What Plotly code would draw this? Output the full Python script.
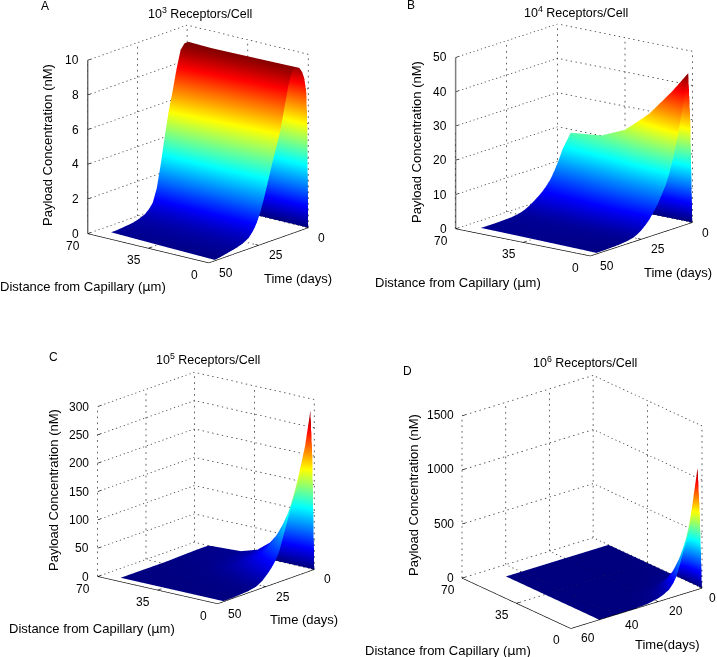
import numpy as np
import plotly.graph_objects as go

W, H = 717, 657

# ---- Panel A: 10^3 receptors/cell
a_time = [0, .5, 1, 2, 3, 4.5, 6, 8, 10, 12, 14, 16, 18, 20, 22, 24, 26, 28, 30, 33, 36, 40, 44, 47]
a_dist = [0, 30, 60]
a_d0 = [0, 6, 7.9, 8.7, 9.1, 9.4, 9.5, 9.4, 8.6, 7.4, 6.2, 5.3, 4.5, 3.6, 2.7, 1.9, 1.3, .9, .62, .42, .3, .2, .1, .05]
a_d30 = [0, 4.5, 6.5, 8, 8.7, 9.2, 9.45, 9.5, 9.2, 8.3, 7.1, 6.1, 5.2, 4.2, 3, 1.8, 1.2, .82, .58, .41, .3, .22, .15, .12]
a_d60 = [0, 3, 5, 7.2, 8.2, 9, 9.4, 9.6, 9.6, 9.3, 8.3, 7.1, 6, 4.6, 3.1, 1.8, 1.05, .75, .55, .4, .3, .25, .2, .2]
a_rows = [a_d0, a_d30, a_d60]

# ---- Panel B: 10^4 receptors/cell
b_time = [0, 1, 2, 3, 4, 5.5, 7, 9, 11, 13, 15, 17, 19, 21, 23, 25, 27, 29, 32, 36, 40, 44, 47]
b_dist = [0, 8, 20, 32, 44, 60]
b_d0 = [0, 30, 44, 41, 37, 32, 27, 21.5, 17, 13.5, 11, 8.6, 6.8, 5, 3.7, 2.6, 1.8, 1.2, .8, .5, .4, .3, .3]
b_d8 = [0, 25, 38, 36, 33, 29, 25, 20.3, 16.3, 13, 10.6, 8.4, 6.6, 4.9, 3.6, 2.6, 1.8, 1.2, .85, .6, .5, .4, .4]
b_d20 = [0, 20, 30, 29.5, 28, 25, 22, 18.5, 15, 12, 9.9, 7.9, 6.3, 4.8, 3.6, 2.6, 1.8, 1.25, .9, .7, .6, .5, .5]
b_d32 = [0, 16, 24, 24, 23.5, 21.5, 19, 16, 13.2, 10.8, 9, 7.2, 5.8, 4.5, 3.4, 2.5, 1.8, 1.3, .95, .8, .7, .6, .6]
b_d44 = [0, 14, 20.5, 21, 20.5, 19.5, 17.5, 14.7, 12, 9.6, 7.9, 6.4, 5.1, 4, 3.1, 2.3, 1.7, 1.3, 1, .85, .75, .7, .7]
b_d60 = [0, 13, 19, 20, 19, 17.5, 16, 13, 10.5, 8.3, 6.8, 5.5, 4.5, 3.6, 2.8, 2.1, 1.6, 1.3, 1, .9, .8, .8, .8]
b_rows = [b_d0, b_d8, b_d20, b_d32, b_d44, b_d60]

# ---- Panel C: 10^5 receptors/cell
c_time = [0, 1, 2, 3, 4.5, 6, 8, 10, 12, 14, 16, 18, 20, 22, 24, 27, 30, 34, 38, 42, 47]
c_dist = [0, 5.5, 13, 21, 31, 41, 60]
c_d0 = [0, 200, 283, 255, 228, 205, 175, 148, 125, 102, 78, 55, 40, 30, 22, 12, 6, 3, 2, 1, 1]
c_d5 = [0, 120, 169, 155, 138, 125, 108, 94, 82, 70, 56, 42, 32, 25, 18, 10, 5.5, 3, 2, 1, 1]
c_d13 = [0, 58, 81, 76, 71, 66, 59, 53, 47, 42, 35, 28, 22, 17, 12, 7, 4, 2.5, 2, 1, 1]
c_d21 = [0, 28, 40, 38, 36, 34, 31, 28, 26, 23, 20, 17, 14, 11, 8, 5, 3, 2, 1.5, 1, 1]
c_d31 = [0, 11, 16, 15, 14.5, 14, 13.5, 12.5, 11, 10, 9, 8, 7, 5.5, 4, 3, 2, 1.5, 1, 1, 1]
c_d41 = [0, 5, 6.5, 6.2, 6, 6, 6, 5.5, 5, 4.5, 4, 3.5, 3, 2.5, 2, 1.7, 1.5, 1.2, 1, 1, 1]
c_d60 = [0, 2, 3, 3, 3, 3, 3, 2.7, 2.5, 2.3, 2, 1.8, 1.5, 1.2, 1, 1, 1, 1, 1, 1, 1]
c_rows = [c_d0, c_d5, c_d13, c_d21, c_d31, c_d41, c_d60]

# ---- Panel D: 10^6 receptors/cell
d_time = [0, 1, 2, 3, 4, 5, 6, 7, 8.5, 10, 11.5, 13, 15, 17.5, 20, 25, 32, 40, 47]
d_dist = [0, 3, 7, 12, 16, 25, 60]
d_d0 = [0, 700, 1130, 920, 770, 660, 570, 490, 395, 290, 190, 130, 80, 50, 30, 8, 1, 1, 1]
d_d3 = [0, 500, 800, 660, 560, 480, 420, 360, 290, 215, 145, 100, 60, 38, 22, 6, 1, 1, 1]
d_d7 = [0, 260, 400, 345, 295, 255, 225, 195, 160, 120, 85, 58, 35, 22, 14, 4, 1, 1, 1]
d_d12 = [0, 60, 90, 80, 70, 62, 55, 48, 40, 32, 23, 16, 12, 8, 5, 2, 1, 1, 1]
d_d16 = [0, 15, 25, 22, 20, 18, 16, 14, 12, 10, 7, 5, 4, 3, 2, 1, 1, 1, 1]
d_d25 = [0, 3, 5, 4.5, 4, 3.5, 3, 3, 3, 2, 2, 1.5, 1, 1, 1, 1, 1, 1, 1]
d_d60 = [0, 1, 1, 1, 1, 1, 1, 1, 1, 1, 1, 1, 1, 1, 1, 1, 1, 1, 1]
d_rows = [d_d0, d_d3, d_d7, d_d12, d_d16, d_d25, d_d60]

dist_ticks = [0, 35, 70]
time_ticks_abc = [0, 25, 50]
time_ticks_d = [0, 20, 40, 60]
z_ticks_a = [0, 2, 4, 6, 8, 10]
z_ticks_b = [0, 10, 20, 30, 40, 50]
z_ticks_c = [0, 50, 100, 150, 200, 250, 300]
z_ticks_d = [0, 500, 1000, 1500]

JET = [[0, "#00007F"], [.125, "#0000FF"], [.375, "#00FFFF"], [.625, "#FFFF00"], [.875, "#FF0000"], [1, "#7F0000"]]
FONT = "Liberation Sans"
SCALE = 139.0
EYE_R = 2.0

panels = [
    dict(sid="scene", letter="A", exp="3", rows=a_rows, time=a_time, dist=a_dist, tt=time_ticks_abc, zt=z_ticks_a,
         eye=(-.609, .737, .292), L=(156, 155, 180), center=(197.5, 144), zcolor="#555555", zwidth=2.5, t0shift=13.5,
         title=(200, 13), let=(45, 6), zt_pos=(47, 145), dl=(83, 287), tl=(298, 278), tl_text="Time (days)", zsolid=True),
    dict(sid="scene2", letter="B", exp="4", rows=b_rows, time=b_time, dist=b_dist, tt=time_ticks_abc, zt=z_ticks_b,
         eye=(-.596, .760, .257), L=(170, 164, 176), center=(573.5, 140), zcolor="#808080", zwidth=3, t0shift=13.5,
         title=(576, 12), let=(411, 5), zt_pos=(416, 142), dl=(458, 282), tl=(678, 272), tl_text="Time (days)", zsolid=True),
    dict(sid="scene3", letter="C", exp="5", rows=c_rows, time=c_time, dist=c_dist, tt=time_ticks_abc, zt=z_ticks_c,
         eye=(-.599, .748, .2835), L=(152.5, 153.6, 176), center=(205.5, 488), zcolor="#333333", zwidth=1.5, t0shift=13.5,
         title=(208, 359), let=(53, 357), zt_pos=(53, 490), dl=(92, 628), tl=(304, 619), tl_text="Time (days)", zsolid=False),
    dict(sid="scene4", letter="D", exp="6", rows=d_rows, time=d_time, dist=d_dist, tt=time_ticks_d, zt=z_ticks_d,
         eye=(-.718, .585, .378), L=(171, 168, 174), center=(582, 501.5), zcolor="#333333", zwidth=1.5, t0shift=10.5,
         title=(585, 362), let=(407, 371), zt_pos=(413, 495), dl=(448, 650), tl=(667, 644), tl_text="Time(days)", zsolid=False),
]

fig = go.Figure()
layout_ann = []
DW, DH = 270, 280
DOT_PITCH = 6.0


def paper(x, y, text, size=13, angle=0):
    return dict(xref="paper", yref="paper", x=x / W, y=1 - y / H, text=text, showarrow=False,
                font=dict(family=FONT, size=size, color="black"), xanchor="center", yanchor="middle", textangle=angle)


for p in panels:
    sid = p["sid"]
    zgrid = np.array(p["rows"], dtype=float).T
    zmax_data = zgrid.max()
    fig.add_trace(go.Surface(x=p["dist"], y=p["time"], z=zgrid, scene=sid, colorscale=JET, cmin=0, cmax=zmax_data,
                             showscale=False, hoverinfo="skip",
                             lighting=dict(ambient=1, diffuse=0, specular=0, roughness=1, fresnel=0)))
    dmax, tmax, zmax = dist_ticks[-1], p["tt"][-1], p["zt"][-1]
    spans = np.array([dmax, tmax, zmax], dtype=float)
    px_per_span = np.array(p["L"], dtype=float)

    # dotted back walls and floor grid, each line broken into short dashes
    gx, gy, gz = [], [], []

    def dotted(a, b):
        a, b = np.array(a, float), np.array(b, float)
        length = np.abs((b - a) / spans * px_per_span).sum()
        n = max(1, int(length / DOT_PITCH))
        for i in range(n + 1):
            s = i / n
            e = min(1, s + 1.8 / length)
            q0, q1 = a + (b - a) * s, a + (b - a) * e
            gx.extend([q0[0], q1[0], None]); gy.extend([q0[1], q1[1], None]); gz.extend([q0[2], q1[2], None])

    for z in p["zt"]:
        dotted((0, 0, z), (dmax, 0, z))
        dotted((dmax, 0, z), (dmax, tmax, z))
    for d in dist_ticks:
        dotted((d, 0, 0), (d, 0, zmax))
        dotted((d, 0, 0), (d, tmax, 0))
    for t in p["tt"]:
        dotted((dmax, t, 0), (dmax, t, zmax))
        dotted((0, t, 0), (dmax, t, 0))
    fig.add_trace(go.Scatter3d(x=gx, y=gy, z=gz, scene=sid, mode="lines", hoverinfo="skip", showlegend=False,
                               line=dict(color="#333333", width=1.5)))

    # solid front axes with inward ticks
    ax, ay, az = [], [], []

    def seg2(a, b):
        ax.extend([a[0], b[0], None]); ay.extend([a[1], b[1], None]); az.extend([a[2], b[2], None])

    seg2((0, tmax, 0), (dmax, tmax, 0))
    seg2((0, 0, 0), (0, tmax, 0))
    for d in dist_ticks:
        seg2((d, tmax, 0), (d, tmax * .97, 0))
    for t in p["tt"]:
        seg2((0, t, 0), (1.8, t, 0))
    for z in p["zt"]:
        seg2((dmax, tmax, z), (dmax, tmax * .97, z))
    fig.add_trace(go.Scatter3d(x=ax, y=ay, z=az, scene=sid, mode="lines", hoverinfo="skip", showlegend=False,
                               line=dict(color="black", width=1.3)))
    if p["zsolid"]:
        fig.add_trace(go.Scatter3d(x=[dmax, dmax], y=[tmax, tmax], z=[0, zmax], scene=sid, mode="lines",
                                   hoverinfo="skip", showlegend=False, line=dict(color=p["zcolor"], width=p["zwidth"])))
    else:
        gx, gy, gz = [], [], []
        dotted((dmax, tmax, 0), (dmax, tmax, zmax))
        fig.add_trace(go.Scatter3d(x=gx, y=gy, z=gz, scene=sid, mode="lines", hoverinfo="skip", showlegend=False,
                                   line=dict(color=p["zcolor"], width=p["zwidth"])))

    anns = []
    lab = dict(showarrow=False, font=dict(family=FONT, size=12, color="black"))
    for z in p["zt"]:
        anns.append(dict(x=dmax, y=tmax, z=z, text=str(z), xanchor="right", yanchor="middle", xshift=-6, **lab))
    for d in dist_ticks:
        anns.append(dict(x=d, y=tmax, z=0, text=str(d), xanchor="center", yanchor="middle", xshift=-14, yshift=-12, **lab))
    for t in p["tt"]:
        anns.append(dict(x=0, y=t, z=0, text=str(t), xanchor="center", yanchor="middle",
                         xshift=p["t0shift"] if t == 0 else 17.5, yshift=-10, **lab))

    hidden = dict(visible=False, showspikes=False, showgrid=False, zeroline=False, showbackground=False)
    cx, cy = p["center"]
    k = SCALE
    scene = dict(
        domain=dict(x=[max(0, (cx - DW / 2) / W), min(1, (cx + DW / 2) / W)],
                    y=[1 - (cy + DH / 2) / H, 1 - max(0, cy - DH / 2) / H]),
        xaxis=dict(range=[0, dmax], **hidden), yaxis=dict(range=[0, tmax], **hidden), zaxis=dict(range=[0, zmax], **hidden),
        aspectmode="manual",
        aspectratio=dict(x=p["L"][0] / k, y=p["L"][1] / k, z=p["L"][2] / k),
        camera=dict(projection=dict(type="orthographic"), up=dict(x=0, y=0, z=1), center=dict(x=0, y=0, z=0),
                    eye=dict(x=p["eye"][0] * EYE_R, y=p["eye"][1] * EYE_R, z=p["eye"][2] * EYE_R)),
        annotations=anns, bgcolor="white", dragmode=False,
    )
    fig.update_layout(**{sid: scene})

    layout_ann.append(paper(*p["title"], f"10<sup>{p['exp']}</sup> Receptors/Cell", size=12.5))
    layout_ann.append(paper(*p["let"], p["letter"], size=12))
    layout_ann.append(paper(*p["zt_pos"], "Payload Concentration (nM)", angle=-90))
    layout_ann.append(paper(*p["dl"], "Distance from Capillary (<span style='font-family:DejaVu Sans'>μ</span>m)"))
    layout_ann.append(paper(*p["tl"], p["tl_text"]))

fig.update_layout(width=W, height=H, margin=dict(l=0, r=0, t=0, b=0), paper_bgcolor="white",
                  showlegend=False, annotations=layout_ann, hovermode=False)
fig.write_html("out.html", config={"displayModeBar": False}, post_script="document.body.style.margin='0';")
